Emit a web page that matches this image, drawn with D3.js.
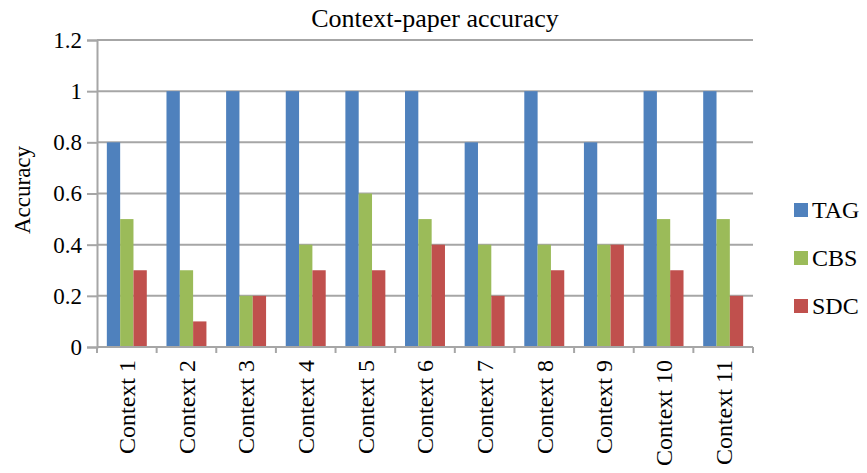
<!DOCTYPE html>
<html>
<head>
<meta charset="utf-8">
<script src="https://cdn.jsdelivr.net/npm/d3@7/dist/d3.min.js"></script>
<style>
  html, body { margin: 0; padding: 0; background: #fff; }
  svg text { font-family: "Liberation Serif", "Times New Roman", serif; fill: #000; }
</style>
</head>
<body>
<svg id="chart" width="867" height="473"></svg>
<script>
const categories = ["Context 1","Context 2","Context 3","Context 4","Context 5","Context 6",
                    "Context 7","Context 8","Context 9","Context 10","Context 11"];
const seriesNames = ["TAG", "CBS", "SDC"];
const tagValues = [0.8, 1, 1, 1, 1, 1, 0.8, 1, 0.8, 1, 1];
const cbsValues = [0.5, 0.3, 0.2, 0.4, 0.6, 0.5, 0.4, 0.4, 0.4, 0.5, 0.5];
const sdcValues = [0.3, 0.1, 0.2, 0.3, 0.3, 0.4, 0.2, 0.3, 0.4, 0.3, 0.2];
const yTicks = [0, 0.2, 0.4, 0.6, 0.8, 1, 1.2];
const yTickLabels = ["0", "0.2", "0.4", "0.6", "0.8", "1", "1.2"];
const colors = ["#4F81BD", "#9BBB59", "#C0504D"];

const FONT = '"Liberation Serif", "Times New Roman", serif';
const GRID = "#a6a6a6";

const seriesValues = [tagValues, cbsValues, sdcValues];
const rows = categories.map((c, i) => ({
  category: c,
  values: seriesNames.map((s, k) => ({ series: s, value: seriesValues[k][i] }))
}));

const svg = d3.select("#chart");
const margin = { left: 97, right: 114, top: 40, bottom: 126 };
const width = 867 - margin.left - margin.right;
const height = 473 - margin.top - margin.bottom;
const g = svg.append("g").attr("transform", `translate(${margin.left},${margin.top})`);

const x0 = d3.scaleBand().domain(categories).range([0, width]).paddingInner(0.33).paddingOuter(0.165);
const x1 = d3.scaleBand().domain(seriesNames).range([0, x0.bandwidth()]);
const y = d3.scaleLinear().domain([0, 1.2]).range([height, 0]);
const color = d3.scaleOrdinal().domain(seriesNames).range(colors);

// horizontal gridlines
g.append("g").selectAll("line").data(yTicks.filter(t => t > 0)).join("line")
  .attr("x1", 0).attr("x2", width)
  .attr("y1", d => y(d)).attr("y2", d => y(d))
  .attr("stroke", GRID).attr("stroke-width", 2);

// bars
g.append("g").selectAll("g").data(rows).join("g")
  .attr("transform", d => `translate(${x0(d.category)},0)`)
  .selectAll("rect").data(d => d.values).join("rect")
  .attr("x", d => x1(d.series))
  .attr("width", x1.bandwidth())
  .attr("y", d => y(d.value))
  .attr("height", d => height - y(d.value))
  .attr("fill", d => color(d.series));

// y axis
const yAxis = g.append("g")
  .call(d3.axisLeft(y).tickValues(yTicks).tickFormat((d, i) => yTickLabels[i]).tickSize(10).tickPadding(5));
yAxis.attr("font-family", null);
yAxis.select(".domain").attr("stroke", GRID).attr("stroke-width", 2);
yAxis.selectAll(".tick line").attr("stroke", GRID).attr("stroke-width", 2);
yAxis.selectAll("text").style("font-family", FONT).style("font-size", "23px");

// x axis: tick marks at category boundaries
const xAxisG = g.append("g").attr("transform", `translate(0,${height})`);
xAxisG.append("line").attr("x1", 0).attr("x2", width).attr("stroke", GRID).attr("stroke-width", 2);
const step = x0.step();
xAxisG.selectAll(".bound").data(d3.range(categories.length + 1)).join("line")
  .attr("class", "bound")
  .attr("x1", i => i * step).attr("x2", i => i * step)
  .attr("y1", 0).attr("y2", 6)
  .attr("stroke", GRID).attr("stroke-width", 2);
xAxisG.selectAll(".lbl").data(categories).join("text")
  .attr("class", "lbl")
  .attr("transform", d => `translate(${x0(d) + x0.bandwidth() / 2},13) rotate(-90)`)
  .attr("text-anchor", "end")
  .attr("dy", "0.35em")
  .style("font-family", FONT).style("font-size", "24px")
  .text(d => d);

// title
svg.append("text")
  .attr("x", 435).attr("y", 27)
  .attr("text-anchor", "middle")
  .style("font-family", FONT).style("font-size", "26px")
  .text("Context-paper accuracy");

// y axis title
svg.append("text")
  .attr("transform", `translate(30,190) rotate(-90)`)
  .attr("text-anchor", "middle")
  .style("font-family", FONT).style("font-size", "23px")
  .text("Accuracy");

// legend
const legend = svg.append("g").attr("transform", "translate(794,203)");
const li = legend.selectAll("g").data(seriesNames).join("g")
  .attr("transform", (d, i) => `translate(0,${i * 48})`);
li.append("rect").attr("width", 14).attr("height", 14).attr("fill", d => color(d));
li.append("text").attr("x", 18).attr("y", 7).attr("dy", "0.35em")
  .style("font-family", FONT).style("font-size", "24px").text(d => d);
</script>
</body>
</html>
